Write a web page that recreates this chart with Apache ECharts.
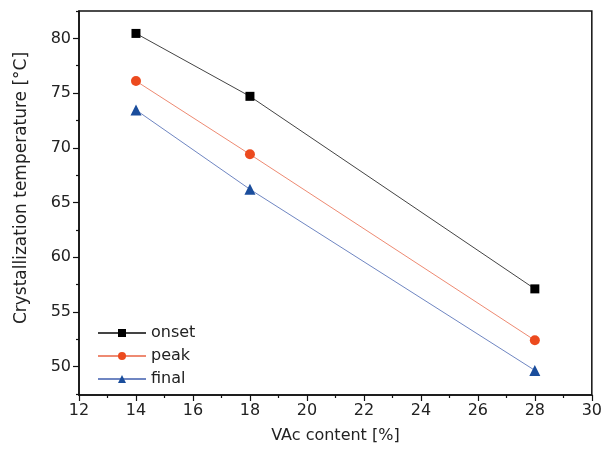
<!DOCTYPE html>
<html>
<head>
<meta charset="utf-8">
<script src="https://cdn.jsdelivr.net/npm/echarts@6/dist/echarts.min.js"></script>
<style>html,body{margin:0;padding:0;background:#fff}#c{width:605px;height:450px}</style>
</head>
<body>
<div id="c"></div>
<script>
const vac = [14, 18, 28];
const onset = [80.45, 74.7, 57.1];
const peak = [76.1, 69.4, 52.4];
const finalT = [73.45, 66.2, 49.65];
const yTicks = [50, 55, 60, 65, 70, 75, 80];
const yMinorTicks = [47.5, 52.5, 57.5, 62.5, 67.5, 72.5, 77.5, 82.5];

const font = 'DejaVu Sans, Verdana, sans-serif';
const chart = echarts.init(document.getElementById('c'), null, {renderer: 'canvas'});
const pair = (xs, ys) => xs.map((x, i) => [x, ys[i]]);
const yMin = 47.4, yMax = 82.5;

chart.setOption({
  animation: false,
  backgroundColor: '#fff',
  grid: {left: 79, right: 11, top: 11, bottom: 55, show: true, borderColor: '#111', borderWidth: 1.5},
  legend: {
    orient: 'vertical', left: 92, top: 320, itemWidth: 48, itemHeight: 10, itemGap: 7,
    textStyle: {fontFamily: font, fontSize: 16, color: '#222'},
    data: ['onset', 'peak', 'final']
  },
  xAxis: {
    type: 'value', min: 12, max: 30, interval: 2,
    name: 'VAc content [%]', nameLocation: 'middle', nameGap: 33,
    nameTextStyle: {fontFamily: font, fontSize: 16, color: '#222'},
    axisLine: {show: true, lineStyle: {color: '#111', width: 1.5}},
    axisTick: {show: true, inside: false, length: 6, lineStyle: {color: '#111', width: 1.2}},
    minorTick: {show: true, splitNumber: 2, length: 3, lineStyle: {color: '#111', width: 1.2}},
    axisLabel: {fontFamily: font, fontSize: 16, color: '#222', margin: 8},
    splitLine: {show: false}
  },
  yAxis: [{
    type: 'value', min: yMin, max: yMax,
    name: 'Crystallization temperature [°C]', nameLocation: 'middle', nameGap: 49,
    nameTextStyle: {fontFamily: font, fontSize: 17, color: '#222', padding: [0, 0, 0, 30]},
    axisLine: {show: true, lineStyle: {color: '#111', width: 1.5}},
    axisTick: {show: true, inside: false, length: 6, customValues: yTicks, lineStyle: {color: '#111', width: 1.2}},
    axisLabel: {fontFamily: font, fontSize: 16, color: '#222', margin: 8, customValues: yTicks},
    splitLine: {show: false}
  }, {
    type: 'value', min: yMin, max: yMax, position: 'left',
    axisLine: {show: false},
    axisTick: {show: true, inside: false, length: 3, customValues: yMinorTicks, lineStyle: {color: '#111', width: 1.2}},
    axisLabel: {show: false},
    splitLine: {show: false}
  }],
  series: [
    {name: 'onset', type: 'line', data: pair(vac, onset), symbol: 'rect', symbolSize: 9,
     itemStyle: {color: '#000'}, lineStyle: {color: '#444', width: 1}},
    {name: 'peak', type: 'line', data: pair(vac, peak), symbol: 'circle', symbolSize: 10,
     itemStyle: {color: '#ec4a1e'}, lineStyle: {color: '#ee8a72', width: 1}},
    {name: 'final', type: 'line', data: pair(vac, finalT), symbol: 'triangle', symbolSize: 11,
     itemStyle: {color: '#1a4d9c'}, lineStyle: {color: '#6f86c2', width: 1}}
  ]
});
</script>
</body>
</html>
